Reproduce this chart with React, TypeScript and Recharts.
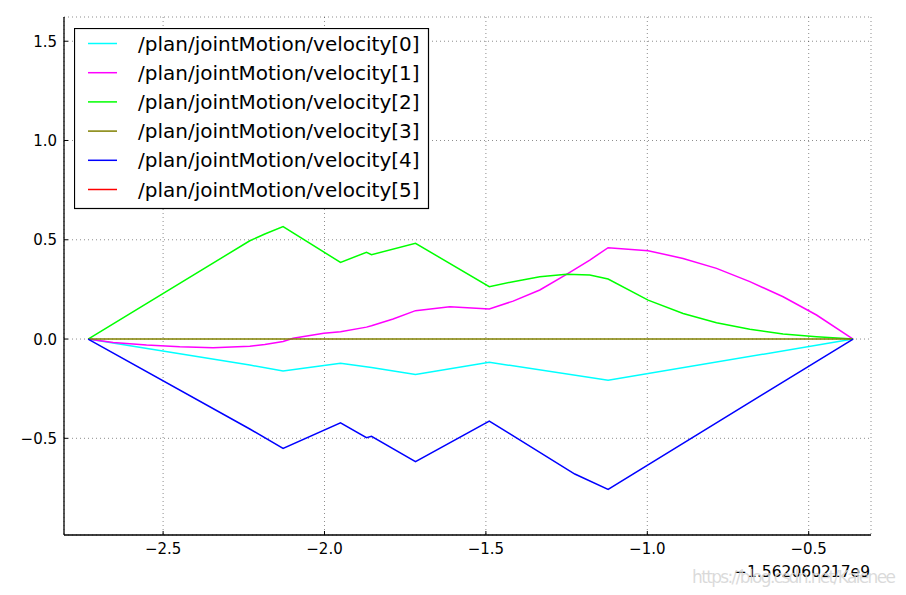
import React from 'react';
import { LineChart, Line, XAxis, YAxis, CartesianGrid, Legend } from 'recharts';

// time offsets (s, relative to -1.562060217e9)
const times = [
  -2.7323, -2.6549, -2.5514, -2.4483, -2.3451, -2.2314, -2.1849, -2.1283, -2.0973, -2.0022,
  -1.9504, -1.8699, -1.8544, -1.7875, -1.7181, -1.6118, -1.4895, -1.4157, -1.3330, -1.2503,
  -1.2246, -1.1781, -1.1214, -0.9975, -0.8891, -0.7856, -0.6824, -0.5793, -0.4758, -0.3624,
];
const N = null;
const velocity0 = [0, N, N, N, N, -0.131, N, -0.161, N, N, -0.122, N, -0.143, N, -0.178, N, -0.117, N, N, N, N, N, -0.208, N, N, N, N, N, N, 0];
const velocity1 = [0, -0.017, -0.030, -0.039, -0.044, -0.036, -0.027, -0.012, 0.004, 0.029, 0.037, 0.060, 0.067, 0.101, 0.143, 0.162, 0.151, 0.191, 0.247, 0.326, N, 0.398, 0.460, 0.445, 0.406, 0.356, 0.289, 0.213, 0.121, 0];
const velocity2 = [0, N, N, N, N, 0.495, 0.529, 0.566, N, N, 0.386, 0.437, 0.425, N, 0.482, N, 0.264, 0.289, 0.314, 0.326, N, 0.322, 0.302, 0.196, 0.129, 0.082, 0.049, 0.025, 0.012, 0];
const velocity3 = [0, 0, 0, 0, 0, 0, 0, 0, 0, 0, 0, 0, 0, 0, 0, 0, 0, 0, 0, 0, 0, 0, 0, 0, 0, 0, 0, 0, 0, 0];
const velocity4 = [0, N, N, N, N, -0.453, N, -0.551, N, N, -0.422, -0.497, -0.490, N, -0.618, N, -0.413, N, N, N, -0.680, N, -0.757, N, N, N, N, N, N, 0];
const velocity5: (number | null)[] = times.map(() => null);

const seriesNames = [
  '/plan/jointMotion/velocity[0]',
  '/plan/jointMotion/velocity[1]',
  '/plan/jointMotion/velocity[2]',
  '/plan/jointMotion/velocity[3]',
  '/plan/jointMotion/velocity[4]',
  '/plan/jointMotion/velocity[5]',
];
const seriesColors = ['#00ffff', '#ff00ff', '#00ff00', '#808000', '#0000ff', '#ff0000'];
const xTicks = [-2.5, -2.0, -1.5, -1.0, -0.5];
const yTicks = [-0.5, 0.0, 0.5, 1.0, 1.5];
const xDomain: [number, number] = [-2.807, -0.307];
const yDomain: [number, number] = [-0.987, 1.622];
const offsetText = '\u22121.562060217e9';
const watermark = 'https://blog.csdn.net/Kalenee';

const allSeries = [velocity0, velocity1, velocity2, velocity3, velocity4, velocity5];
const data = times.map((t, i) => {
  const row: Record<string, number | null> = { t };
  allSeries.forEach((s, k) => { row['v' + k] = s[i]; });
  return row;
});

const FONT = '"DejaVu Sans", sans-serif';
const fmt = (v: number) => (v < 0 ? '\u2212' : '') + Math.abs(v).toFixed(1);
const TL = 4;

const BottomTick = (p: any) => (
  <g>
    <line x1={p.x} x2={p.x} y1={p.y} y2={p.y - TL} stroke="#000" strokeWidth={1} />
    <text x={p.x} y={p.y + 19} textAnchor="middle" fontSize={15} fontFamily={FONT} fill="#000">{fmt(p.payload.value)}</text>
  </g>
);
const TopTick = (p: any) => (
  <line x1={p.x} x2={p.x} y1={p.y} y2={p.y + TL} stroke="#000" strokeWidth={1} />
);
const LeftTick = (p: any) => (
  <g>
    <line x1={p.x} x2={p.x + TL} y1={p.y} y2={p.y} stroke="#000" strokeWidth={1} />
    <text x={p.x - 7} y={p.y} dy={5.5} textAnchor="end" fontSize={15} fontFamily={FONT} fill="#000">{fmt(p.payload.value)}</text>
  </g>
);
const RightTick = (p: any) => (
  <line x1={p.x} x2={p.x - TL} y1={p.y} y2={p.y} stroke="#000" strokeWidth={1} />
);

const LegendBox = () => (
  <svg width={356} height={182} style={{ display: 'block' }}>
    <rect x={0.5} y={0.5} width={354} height={180} fill="#fff" stroke="#000" strokeWidth={1.2} />
    {seriesNames.map((name, i) => {
      const cy = 15.5 + i * 29.2;
      return (
        <g key={name}>
          <line x1={14} x2={43} y1={cy} y2={cy} stroke={seriesColors[i]} strokeWidth={1.5} />
          <text x={64} y={cy} dy={7} fontSize={20} fontFamily={FONT} fill="#000">{name}</text>
        </g>
      );
    })}
  </svg>
);

const OffsetLabel = (props: any) => {
  const vb = props.viewBox || { x: 64, y: 535, width: 807, height: 60 };
  const right = vb.x + vb.width;
  return (
    <g>
      <text x={right - 1} y={vb.y + 42} textAnchor="end" fontSize={15.5} fontFamily={FONT} fill="#000">{offsetText}</text>
      <text x={right + 25} y={vb.y + 48} textAnchor="end" fontSize={17} fontFamily={FONT} fill="#d4d4d4" fillOpacity={0.85} textLength={204}>{watermark}</text>
    </g>
  );
};

export default function App() {
  return (
    <div style={{ position: 'absolute', left: 0, top: 0, width: 906, height: 595, background: '#fff' }}>
      <LineChart
        width={906}
        height={595}
        data={data}
        margin={{ top: 17, right: 35, left: 0, bottom: 0 }}
        style={{ background: '#fff' }}
      >
        <CartesianGrid stroke="#000" strokeOpacity={0.45} strokeDasharray="1 3" strokeWidth={1} xAxisId={0} yAxisId={0} />
        <XAxis
          xAxisId={0}
          dataKey="t"
          type="number"
          domain={xDomain}
          allowDataOverflow
          ticks={xTicks}
          orientation="bottom"
          height={60}
          tickSize={0}
          tickMargin={0}
          tickLine={false}
          axisLine={{ stroke: '#000', strokeWidth: 1.3 }}
          tick={BottomTick}
          interval={0}
          label={{ content: OffsetLabel }}
        />
        <XAxis
          xAxisId="top"
          dataKey="t"
          type="number"
          domain={xDomain}
          allowDataOverflow
          ticks={xTicks}
          orientation="top"
          height={0}
          tickSize={0}
          tickMargin={0}
          tickLine={false}
          axisLine={{ stroke: '#000', strokeWidth: 1.3 }}
          tick={TopTick}
          interval={0}
        />
        <YAxis
          yAxisId={0}
          type="number"
          domain={yDomain}
          allowDataOverflow
          ticks={yTicks}
          orientation="left"
          width={64}
          tickSize={0}
          tickMargin={0}
          tickLine={false}
          axisLine={{ stroke: '#000', strokeWidth: 1.3 }}
          tick={LeftTick}
          interval={0}
        />
        <YAxis
          yAxisId="right"
          type="number"
          domain={yDomain}
          allowDataOverflow
          ticks={yTicks}
          orientation="right"
          width={0}
          tickSize={0}
          tickMargin={0}
          tickLine={false}
          axisLine={{ stroke: '#000', strokeWidth: 1.3 }}
          tick={RightTick}
          interval={0}
        />
        {seriesNames.map((name, k) => (
          <Line
            key={name}
            xAxisId={0}
            yAxisId={0}
            type="linear"
            dataKey={'v' + k}
            name={name}
            stroke={seriesColors[k]}
            strokeWidth={1.5}
            dot={false}
            activeDot={false}
            connectNulls
            isAnimationActive={false}
          />
        ))}
        <Legend
          layout="vertical"
          align="center"
          verticalAlign="middle"
          content={LegendBox}
          wrapperStyle={{ position: 'absolute', left: 74, top: 28, width: 'auto', height: 'auto' }}
        />
      </LineChart>
    </div>
  );
}
